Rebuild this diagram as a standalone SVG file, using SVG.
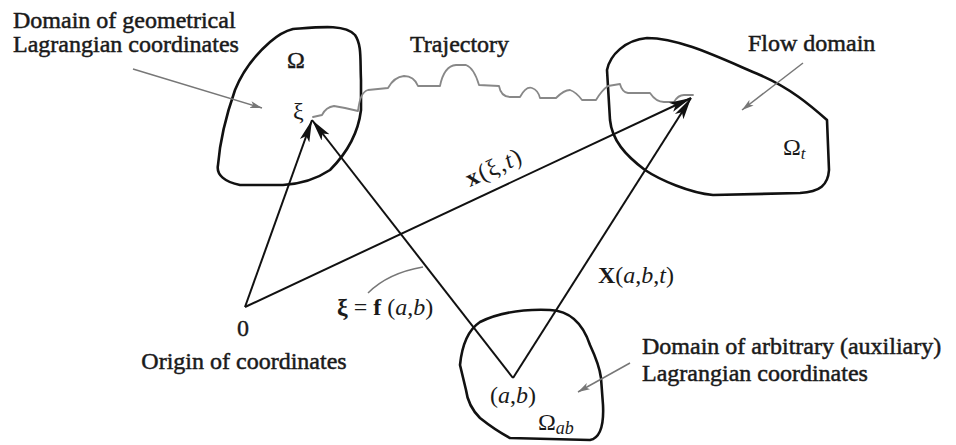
<svg xmlns="http://www.w3.org/2000/svg" width="956" height="445" viewBox="0 0 956 445">
  <style>
    text { font-family: "Liberation Serif", "Times New Roman", serif; fill: #1a1a1a; }
    .lbl { font-size: 24px; stroke: #1a1a1a; stroke-width: 0.5px; }
    .sym { font-size: 24px; }
    .it { font-style: italic; }
    .b { font-weight: bold; }
    .domain { fill: none; stroke: #111; stroke-width: 2.6; stroke-linejoin: round; }
    .vec { fill: none; stroke: #111; stroke-width: 2; }
    .lead { fill: none; stroke: #777; stroke-width: 1.5; }
    .traj { fill: none; stroke: #888; stroke-width: 1.8; stroke-linejoin: round; stroke-linecap: round; }
  </style>
  <defs>
    <marker id="ah" markerUnits="userSpaceOnUse" markerWidth="24" markerHeight="12" refX="22" refY="6" orient="auto">
      <path d="M0,1 L22,6 L0,11 L5,6 z" fill="#111"/>
    </marker>
    <marker id="gh" markerUnits="userSpaceOnUse" markerWidth="14" markerHeight="8" refX="12" refY="4" orient="auto">
      <path d="M0,0.5 L12,4 L0,7.5 L3,4 z" fill="#777"/>
    </marker>
  </defs>
  <rect width="956" height="445" fill="#fff"/>

  <g id="domain-omega">
    <path class="domain" d="M293,29 C320,27 345,24 355,35 C362,45 360,60 361,80 L361,110 C358,135 345,155 330,170 C315,180 300,184 283,185 L240,185 C225,182 216,175 218,165 C220,140 228,110 235,90 C243,70 255,55 270,42 C278,35 285,31 293,29 Z"/>
    <text class="sym" x="287" y="68" stroke="#1a1a1a" stroke-width="0.4">Ω</text>
    <text class="sym" x="293" y="119" font-size="21">ξ</text>
  </g>

  <g id="domain-flow">
    <path class="domain" d="M647,38 C680,38 720,58 760,75 C790,88 810,105 827,120 L829,170 C828,185 820,192 800,193 L713,195 C690,193 660,180 645,170 C625,155 612,140 610,120 L607,70 C610,55 625,40 647,38 Z"/>
    <text class="sym" x="783" y="155">Ω<tspan class="it" font-size="17" dy="4">t</tspan></text>
  </g>

  <g id="domain-ab">
    <path class="domain" d="M550,310 C575,311 585,330 590,345 C597,360 600,370 601,378 L603,405 C604,425 600,438 590,440 L510,438 C495,430 485,422 480,418 C470,408 467,398 466,390 L460,365 C462,345 468,330 480,322 C500,312 525,309 550,310 Z"/>
    <text class="sym" x="490" y="403">(<tspan class="it">a</tspan>,<tspan class="it">b</tspan>)</text>
    <text class="sym" x="538" y="430">Ω<tspan class="it" font-size="18" dy="4">ab</tspan></text>
  </g>

  <g id="origin">
    <text class="sym" x="243" y="336" text-anchor="middle" stroke="#1a1a1a" stroke-width="0.4">0</text>
  </g>

  <g id="connectors">
    <path class="traj" d="M313,117 L322,115 Q326,107 334,106 L345,108 L358,111 Q360,92 368,90 L388,88 Q394,77 404,76 Q414,76 418,86 L440,86 Q444,66 456,65 L466,65 Q474,68 479,85 L499,86 Q501,97 510,97 L520,97 Q526,86 532,88 Q538,90 540,98 L556,98 Q564,90 570,90 Q576,92 582,100 L596,100 Q602,90 608,86 L620,84 Q622,92 628,93 L650,93 Q656,102 664,102 L674,102 Q678,95 684,95 L693,95"/>
    <line class="vec" x1="245" y1="307" x2="312" y2="120" marker-end="url(#ah)"/>
    <line class="vec" x1="513" y1="378" x2="312" y2="120" marker-end="url(#ah)"/>
    <line class="vec" x1="245" y1="307" x2="691" y2="98" marker-end="url(#ah)"/>
    <line class="vec" x1="513" y1="378" x2="691" y2="98" marker-end="url(#ah)"/>
    <line class="lead" x1="133" y1="69" x2="262" y2="108" marker-end="url(#gh)"/>
    <line class="lead" x1="803" y1="63" x2="742" y2="110" marker-end="url(#gh)"/>
    <line class="lead" x1="630" y1="363" x2="578" y2="392" marker-end="url(#gh)"/>
    <path class="lead" d="M368,293 Q388,273 423,267"/>
  </g>

  <g id="labels">
    <text class="lbl" x="13" y="28">Domain of geometrical</text>
    <text class="lbl" x="13" y="52">Lagrangian coordinates</text>
    <text class="lbl" x="410" y="52">Trajectory</text>
    <text class="lbl" x="748" y="51">Flow domain</text>
    <text class="lbl" x="244" y="369" text-anchor="middle">Origin of coordinates</text>
    <text class="lbl" x="642" y="354">Domain of arbitrary (auxiliary)</text>
    <text class="lbl" x="642" y="381">Lagrangian coordinates</text>
    <text class="sym" font-size="22" transform="translate(470,187) rotate(-25)" letter-spacing="1.5"><tspan class="b">x</tspan>(ξ,<tspan class="it">t</tspan>)</text>
    <text class="sym" font-size="22" x="598" y="283"><tspan class="b">X</tspan>(<tspan class="it">a</tspan>,<tspan class="it">b</tspan>,<tspan class="it">t</tspan>)</text>
    <text class="sym" font-size="22" x="337" y="315"><tspan class="b">ξ</tspan> = <tspan class="b">f</tspan> (<tspan class="it">a</tspan>,<tspan class="it">b</tspan>)</text>
  </g>
</svg>
